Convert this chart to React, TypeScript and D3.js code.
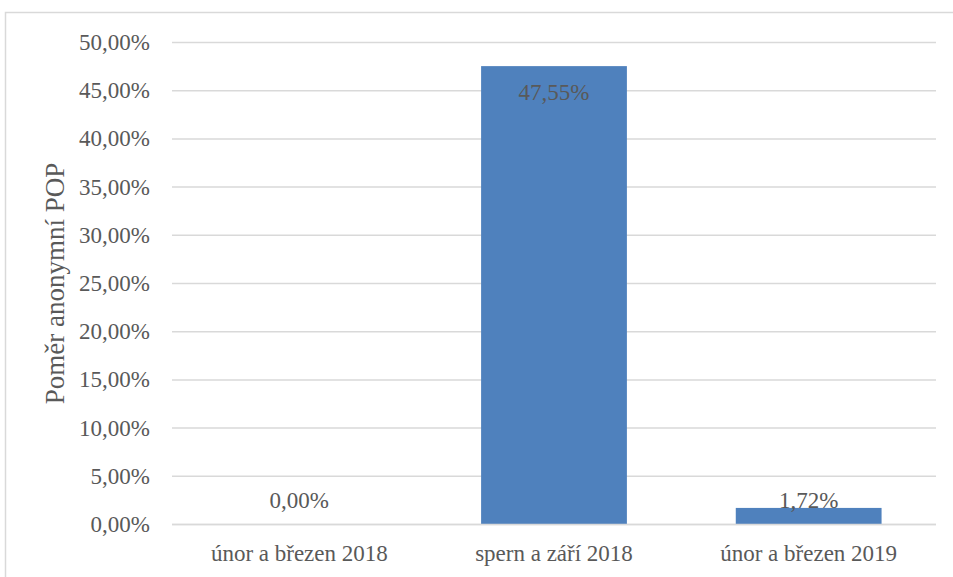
import React from "react";
import * as d3 from "d3";

const categories = ["únor a březen 2018", "spern a září 2018", "únor a březen 2019"];
const values = [0.0, 47.55, 1.72];
const yTicks = [0, 5, 10, 15, 20, 25, 30, 35, 40, 45, 50];
const yTitle = "Poměr anonymní POP";

const W = 953;
const H = 577;
const FONT = "'Liberation Serif', 'Times New Roman', 'DejaVu Serif', serif";
const TEXT = "#595959";

const fmt = (v: number) => v.toFixed(2).replace(".", ",") + "%";

const txtStyle: React.CSSProperties = { fontFamily: FONT, fontSize: "23px" };
const titleStyle: React.CSSProperties = { fontFamily: FONT, fontSize: "27px" };

export default function App() {
  const left = 172;
  const right = 936;
  const top = 42.5;
  const bottom = 524.5;

  const x = d3
    .scaleBand<string>()
    .domain(categories)
    .range([left, right])
    .paddingInner(0.4275)
    .paddingOuter(0.21375);
  const y = d3.scaleLinear().domain([0, 50]).range([bottom, top]);

  return (
    <svg
      width={W}
      height={H}
      style={{ position: "absolute", left: 0, top: 0, background: "#fff" }}
    >
      <rect x={5.5} y={12.5} width={W + 10} height={H + 10} fill="#fff" stroke="#d9d9d9" strokeWidth={1.5} />
      {yTicks.map((t) => (
        <g key={t}>
          <line x1={left} x2={right} y1={y(t)} y2={y(t)} stroke="#d9d9d9" strokeWidth={1.5} />
          <text x={150} y={y(t)} dy="0.33em" textAnchor="end" style={txtStyle} fill={TEXT}>
            {fmt(t)}
          </text>
        </g>
      ))}
      {categories.map((c, i) => {
        const bx = x(c) as number;
        const top0 = y(values[i]);
        const ly = Math.min(top0 + 34, bottom - 17);
        return (
          <g key={c}>
            <rect x={bx} y={top0} width={x.bandwidth()} height={bottom - top0} fill="#4f81bd" />
            <text x={bx + x.bandwidth() / 2} y={ly} textAnchor="middle" style={txtStyle} fill={TEXT}>
              {fmt(values[i])}
            </text>
            <text x={bx + x.bandwidth() / 2} y={561} textAnchor="middle" style={txtStyle} fill={TEXT}>
              {c}
            </text>
          </g>
        );
      })}
      <line x1={left} x2={right} y1={bottom} y2={bottom} stroke="#d9d9d9" strokeWidth={1.5} />
      <text
        transform={`translate(64, ${(top + bottom) / 2}) rotate(-90)`}
        textAnchor="middle"
        style={titleStyle}
        fill={TEXT}
      >
        {yTitle}
      </text>
    </svg>
  );
}
